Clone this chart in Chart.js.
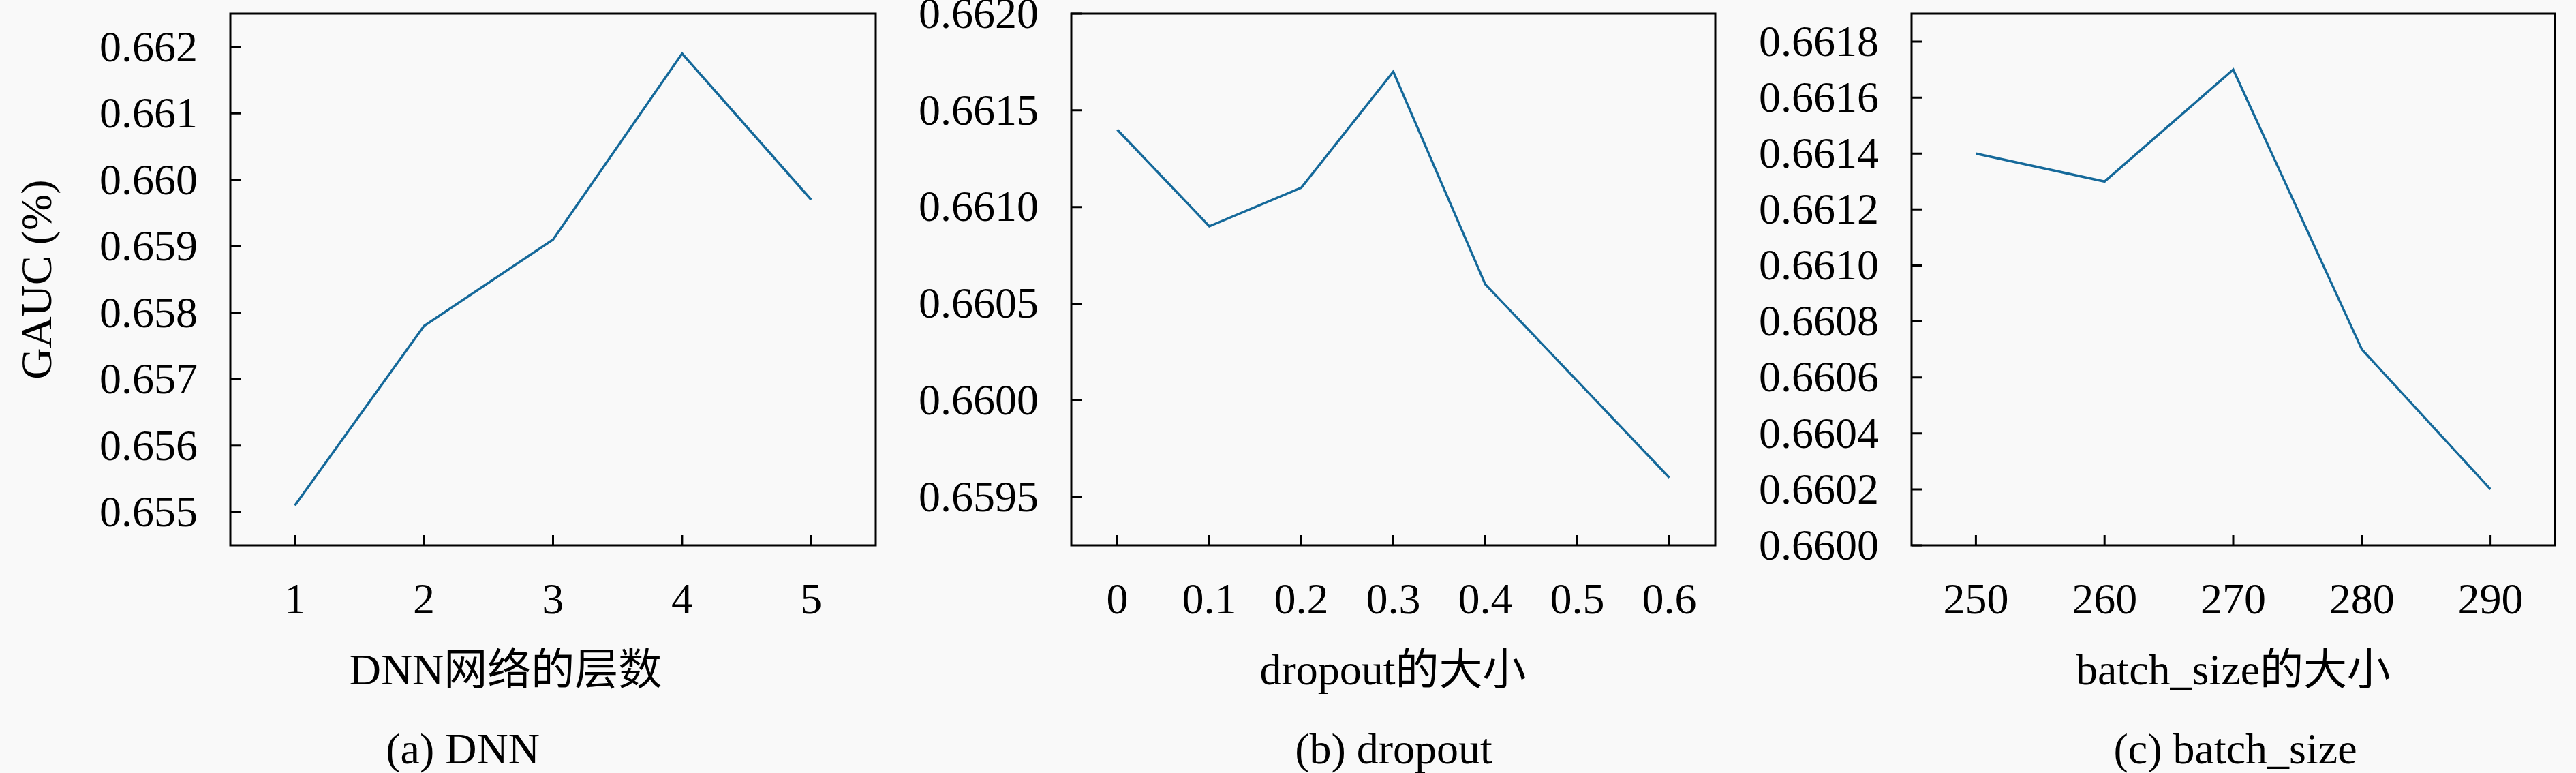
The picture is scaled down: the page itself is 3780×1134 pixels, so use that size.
<!DOCTYPE html>
<html>
<head>
<meta charset="utf-8">
<script src="https://cdn.jsdelivr.net/npm/chart.js@4.4.1/dist/chart.umd.min.js"></script>
<style>
  html, body { margin: 0; padding: 0; background: #f9f9f9; }
  #wrap { position: relative; width: 3780px; height: 1134px; overflow: hidden; }
  canvas { position: absolute; top: 0; }
  .txt {
    position: absolute; transform: translate(-50%, -50%);
    font-family: 'Liberation Serif', 'Noto Sans CJK SC', serif;
    font-size: 64px; color: #000; white-space: nowrap; line-height: 1;
  }
</style>
</head>
<body>
<div id="wrap">
  <canvas id="chartA" width="1300" height="930" style="left:0px"></canvas>
  <canvas id="chartB" width="1230" height="930" style="left:1300px"></canvas>
  <canvas id="chartC" width="1250" height="930" style="left:2530px"></canvas>

  <div class="txt" style="left:742px; top:983px">DNN网络的层数</div>
  <div class="txt" style="left:2044px; top:983px">dropout的大小</div>
  <div class="txt" style="left:3277px; top:983px">batch_size的大小</div>

  <div class="txt" style="left:679px; top:1099px">(a) DNN</div>
  <div class="txt" style="left:2045px; top:1099px">(b) dropout</div>
  <div class="txt" style="left:3280px; top:1099px">(c) batch_size</div>
</div>

<script>
// data
const dnnLayers = [1, 2, 3, 4, 5];
const dnnGauc = [0.6551, 0.6578, 0.6591, 0.6619, 0.6597];
const dnnYTicks = [0.655, 0.656, 0.657, 0.658, 0.659, 0.660, 0.661, 0.662];
const dnnXLabels = ['1', '2', '3', '4', '5'];

const dropoutRates = [0, 0.1, 0.2, 0.3, 0.4, 0.5, 0.6];
const dropoutGauc = [0.6614, 0.6609, 0.6611, 0.6617, 0.6606, 0.6601, 0.6596];
const dropoutYTicks = [0.6595, 0.6600, 0.6605, 0.6610, 0.6615, 0.6620];
const dropoutXLabels = ['0', '0.1', '0.2', '0.3', '0.4', '0.5', '0.6'];

const batchSizes = [250, 260, 270, 280, 290];
const batchGauc = [0.6614, 0.6613, 0.6617, 0.6607, 0.6602];
const batchYTicks = [0.6600, 0.6602, 0.6604, 0.6606, 0.6608, 0.6610, 0.6612, 0.6614, 0.6616, 0.6618];
const batchXLabels = ['250', '260', '270', '280', '290'];

const FONT = { family: "'Liberation Serif', 'Noto Sans CJK SC', serif", size: 64 };
const LINE_COLOR = '#15699a';

// axes box plus inward tick marks, like the matplotlib look of the original
const boxPlugin = {
    id: 'boxTicks',
    afterDraw(chart) {
        const { ctx, chartArea: a, scales: { x, y } } = chart;
        ctx.save();
        ctx.strokeStyle = '#000';
        ctx.lineWidth = 3;
        ctx.strokeRect(a.left, a.top, a.right - a.left, a.bottom - a.top);
        ctx.beginPath();
        x.ticks.forEach(t => {
            const px = x.getPixelForValue(t.value);
            ctx.moveTo(px, a.bottom);
            ctx.lineTo(px, a.bottom - 15);
        });
        y.ticks.forEach(t => {
            const py = y.getPixelForValue(t.value);
            ctx.moveTo(a.left, py);
            ctx.lineTo(a.left + 15, py);
        });
        ctx.stroke();
        ctx.restore();
    }
};

// Function to build one panel
function makePanel(id, xs, ys, opts) {
    const ctx = document.getElementById(id).getContext('2d');
    return new Chart(ctx, {
        type: 'line',
        data: {
            datasets: [{
                data: xs.map((v, i) => ({ x: v, y: ys[i] })),
                borderColor: LINE_COLOR,
                borderWidth: 3.5,
                pointRadius: 0,
                tension: 0,
                fill: false
            }]
        },
        options: {
            responsive: false,
            animation: false,
            devicePixelRatio: 1,
            layout: { padding: { top: 20, right: opts.rightPad, bottom: 0, left: 0 } },
            plugins: { legend: { display: false }, tooltip: { enabled: false } },
            scales: {
                x: {
                    type: 'linear',
                    min: opts.xMin,
                    max: opts.xMax,
                    afterBuildTicks: s => { s.ticks = xs.map(v => ({ value: v })); },
                    afterFit: s => { s.height = 130; s.paddingLeft = 0; s.paddingRight = 0; },
                    grid: { display: false, drawTicks: false },
                    border: { display: false },
                    ticks: {
                        autoSkip: false,
                        maxRotation: 0,
                        padding: 45,
                        color: '#000',
                        font: FONT,
                        callback: (v, i) => opts.xLabels[i]
                    }
                },
                y: {
                    min: opts.yMin,
                    max: opts.yMax,
                    afterBuildTicks: s => { s.ticks = opts.yTicks.map(v => ({ value: v })); },
                    afterFit: s => { s.width = opts.yWidth; s.paddingTop = 0; s.paddingBottom = 0; },
                    grid: { display: false, drawTicks: false },
                    border: { display: false },
                    ticks: {
                        autoSkip: false,
                        padding: 48,
                        labelOffset: 4,
                        color: '#000',
                        font: FONT,
                        callback: v => v.toFixed(opts.digits)
                    },
                    title: {
                        display: !!opts.yTitle,
                        text: opts.yTitle || '',
                        color: '#000',
                        font: FONT,
                        padding: { top: 20, bottom: 0 }
                    }
                }
            }
        },
        plugins: [boxPlugin]
    });
}

makePanel('chartA', dnnLayers, dnnGauc, {
    xMin: 0.5, xMax: 5.5, xLabels: dnnXLabels,
    yMin: 0.6545, yMax: 0.6625, yTicks: dnnYTicks, digits: 3,
    yWidth: 338, rightPad: 15, yTitle: 'GAUC (%)'
});

makePanel('chartB', dropoutRates, dropoutGauc, {
    xMin: -0.05, xMax: 0.65, xLabels: dropoutXLabels,
    yMin: 0.65925, yMax: 0.6620, yTicks: dropoutYTicks, digits: 4,
    yWidth: 272, rightPad: 13
});

makePanel('chartC', batchSizes, batchGauc, {
    xMin: 245, xMax: 295, xLabels: batchXLabels,
    yMin: 0.6600, yMax: 0.6619, yTicks: batchYTicks, digits: 4,
    yWidth: 275, rightPad: 31
});
</script>
</body>
</html>
